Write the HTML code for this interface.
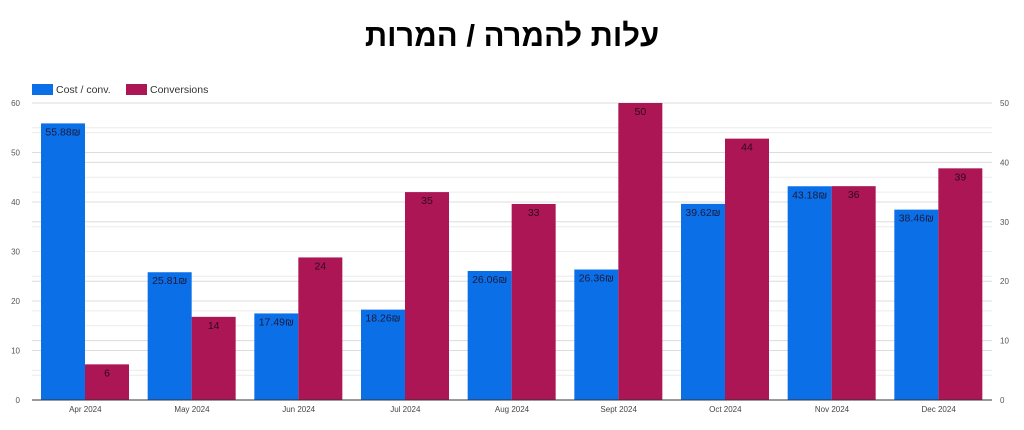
<!DOCTYPE html>
<html><head><meta charset="utf-8"><style>
body{margin:0;background:#fff;width:1024px;height:430px;overflow:hidden;font-family:"Liberation Sans",sans-serif}
#title{position:absolute;top:18px;left:0;width:1024px;text-align:center;font:bold 31px "Liberation Sans","Noto Sans CJK SC",sans-serif;color:#000}
</style></head><body>
<div id="title" dir="rtl">עלות להמרה / המרות</div>
<svg id="chart" width="1024" height="430" style="position:absolute;top:0;left:0">
<g>
<rect x="32" y="84" width="21" height="11" fill="#0b6fe8"/>
<text x="56" y="93" font-size="10.5" fill="#333">Cost / conv.</text>
<rect x="126" y="84" width="21" height="11" fill="#ac1655"/>
<text x="150" y="93" font-size="10.5" fill="#333">Conversions</text>
</g>
</svg>
<script>
const categories=["Apr 2024","May 2024","Jun 2024","Jul 2024","Aug 2024","Sept 2024","Oct 2024","Nov 2024","Dec 2024"];
const costValues=[55.88,25.81,17.49,18.26,26.06,26.36,39.62,43.18,38.46];
const convValues=[6,14,24,35,33,50,44,36,39];
const leftTicks=[0,10,20,30,40,50,60];
const rightTicks=[0,10,20,30,40,50];
const svg=document.getElementById('chart');const NS='http://www.w3.org/2000/svg';
const X0=32,X1=992,Y0=400,Y1=103;
const yL=v=>Y0-(v/60)*(Y0-Y1), yR=v=>Y0-(v/50)*(Y0-Y1);
const gw=(X1-X0)/categories.length;
function mk(t,a,p){const e=document.createElementNS(NS,t);for(const k in a)e.setAttribute(k,a[k]);(p||svg).appendChild(e);return e;}
const grid=mk('g',{});


for(let v=5;v<=60;v+=5){const l=mk('line',{x1:X0,x2:X1,y1:yL(v),y2:yL(v),stroke:v%10?'#ececec':'#dcdcdc','stroke-width':1},grid);}
for(let v=5;v<=50;v+=5){mk('line',{x1:X0,x2:X1,y1:yR(v),y2:yR(v),stroke:v%10?'#ececec':'#dcdcdc','stroke-width':1},grid);}
leftTicks.forEach(v=>{const t=mk('text',{x:20,y:yL(v)+3,'font-size':8,fill:'#555','text-anchor':'end'});t.textContent=v;

});
rightTicks.forEach(v=>{const t=mk('text',{x:1000,y:yR(v)+3,'font-size':8,fill:'#555'});t.textContent=v;

});
categories.forEach((c,i)=>{
const gx=X0+i*gw, bw=44, bx=gx+9;
const b1=mk('rect',{x:bx,y:yL(costValues[i]),width:bw,height:Y0-yL(costValues[i]),fill:'#0b6fe8'});


const b2=mk('rect',{x:bx+bw,y:yR(convValues[i]),width:bw,height:Y0-yR(convValues[i]),fill:'#ac1655'});


const t1=mk('text',{x:bx+bw/2,y:yL(costValues[i])+12,'font-size':10.5,fill:'#1a1a3a','text-anchor':'middle'});t1.textContent=costValues[i].toFixed(2)+'₪';


const t2=mk('text',{x:bx+bw*1.5,y:yR(convValues[i])+12,'font-size':10.5,fill:'#2a0a1a','text-anchor':'middle'});t2.textContent=convValues[i];


const t3=mk('text',{x:gx+gw/2,y:412,'font-size':8,fill:'#444','text-anchor':'middle'});t3.textContent=c;


});
const ax=mk('line',{x1:X0,x2:X1,y1:Y0,y2:Y0,stroke:'#333','stroke-width':1});


</script>
</body></html>
